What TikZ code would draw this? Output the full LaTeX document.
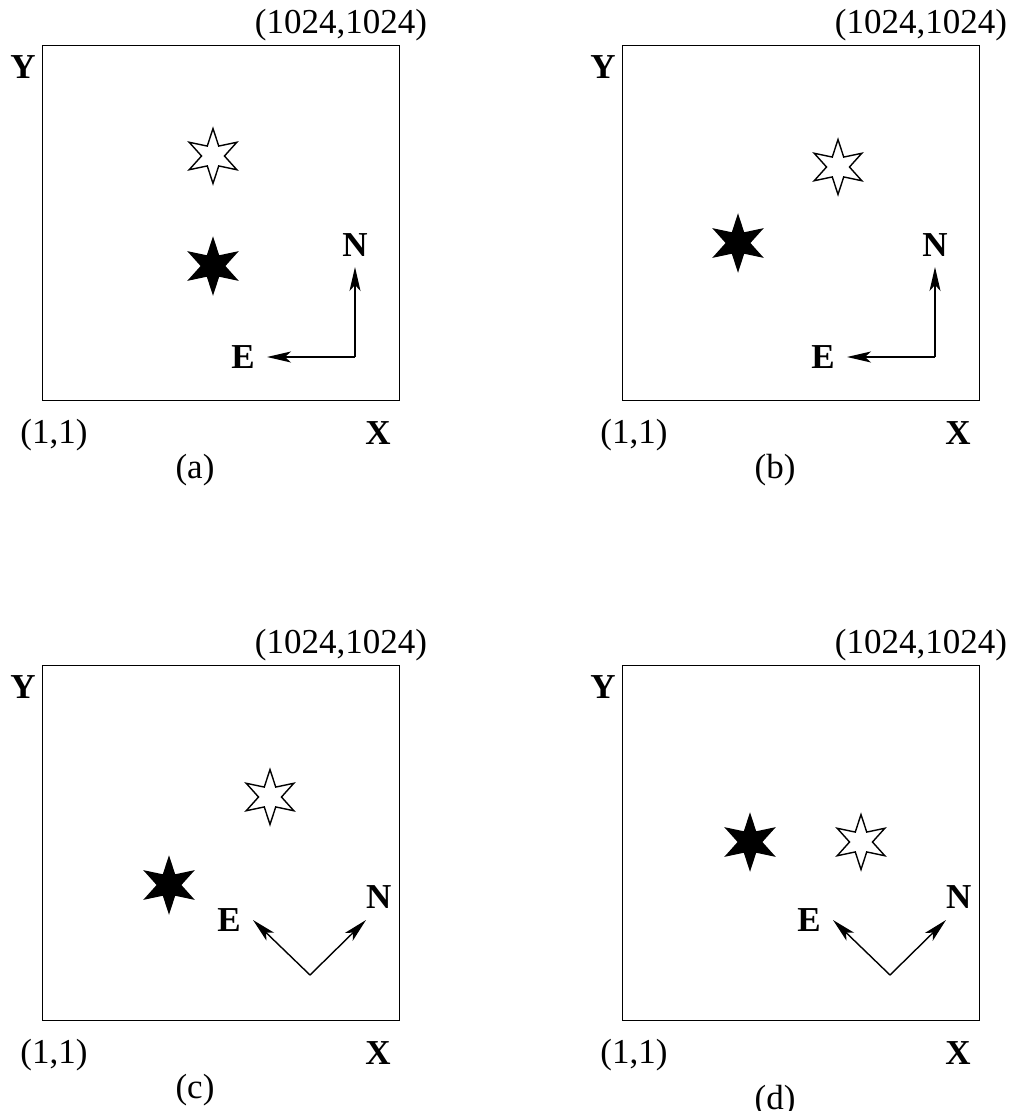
\documentclass[tikz,border=0pt]{standalone}
\usepackage{fontspec}
\setmainfont{Liberation Serif}
\usetikzlibrary{positioning,arrows.meta,shapes.geometric}
\tikzset{
  frame/.style={draw,line width=1.6pt,minimum width=357pt,minimum height=355pt,inner sep=0},
  lab/.style={font=\fontsize{35}{40}\selectfont,inner sep=0},
  axis/.style={inner sep=0,font=\fontsize{35}{40}\selectfont\bfseries},
  % six-pointed stars: the open one and the filled one
  starbase/.style={star,star points=6,star point ratio=2.4,minimum size=55pt,inner sep=0,line width=1.4pt,draw},
  openstar/.style={starbase,fill=white},
  fullstar/.style={starbase,fill=black},
  arrow/.style={-{Stealth[length=24pt,width=11pt,inset=6pt]},line width=1.4pt},
}

\begin{document}
\begin{tikzpicture}[x=1pt,y=-1pt]
  \useasboundingbox (0,0) rectangle (1011,1111);
  % one panel of the image grid, y runs downwards
  \newcommand{\panel}[9]{% #1 = name, #2 = shift, #3 = open star, #4 = filled star,
    % #5 = compass origin, #6 = N tip, #7 = E tip, #8 = where N sits, #9 = caption y
    \begin{scope}[shift={#2}]
      \node[frame] (#1-box) at (221,223) {};
      \node[lab] (#1-max) at (341,25) {(1024,1024)};
      \node[lab] (#1-min) at (54,435) {(1,1)};
      \node[axis] (#1-Y) at (23,67) {Y};
      \node[axis] (#1-X) at (378,433) {X};
      \node[openstar] (#1-open) at #3 {};
      \node[fullstar] (#1-full) at #4 {};
      \coordinate (#1-o) at #5; \coordinate (#1-Nt) at #6; \coordinate (#1-Et) at #7;
      \draw[arrow] (#1-o) -- (#1-Nt);
      \draw[arrow] (#1-o) -- (#1-Et);
      \node[axis,#8 of #1-Nt] (#1-N) {N};
      \node[axis,left=12pt of #1-Et] (#1-E) {E};
      \node[lab] (#1-cap) at (195,#9) {(#1)};
    \end{scope}
  }
  \panel{a}{(0,0)}{(213,156)}{(213,266)}{(355,357)}{(355,267)}{(267,357)}{above=10pt}{470}
  \panel{b}{(580,0)}{(258,167)}{(158,243)}{(355,357)}{(355,267)}{(267,357)}{above=10pt}{470}
  \panel{c}{(0,620)}{(270,177)}{(169,265)}{(310,355)}{(366,300)}{(253,300)}{above right=11pt and 0pt}{470}
  \panel{d}{(580,620)}{(281,222)}{(170,222)}{(310,355)}{(366,300)}{(253,300)}{above right=11pt and 0pt}{481}
\end{tikzpicture}
\end{document}
